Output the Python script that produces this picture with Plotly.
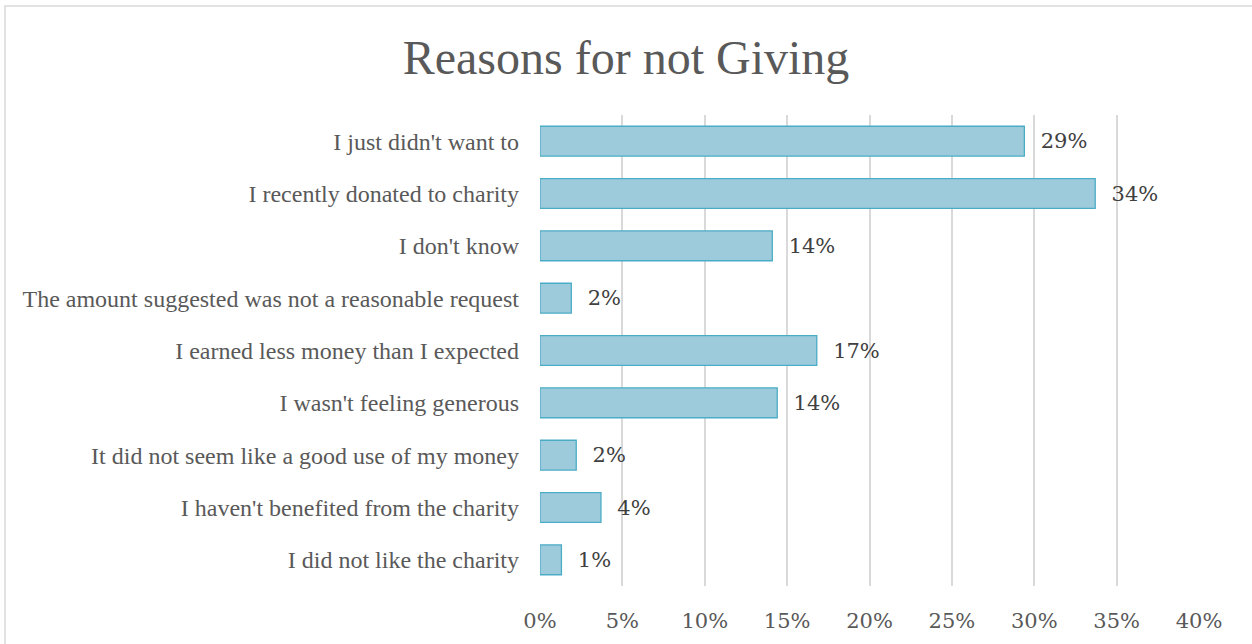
import plotly.graph_objects as go

categories = [
    "I just didn't want to",
    "I recently donated to charity",
    "I don't know",
    "The amount suggested was not a reasonable request",
    "I earned less money than I expected",
    "I wasn't feeling generous",
    "It did not seem like a good use of my money",
    "I haven't benefited from the charity",
    "I did not like the charity",
]
values = [0.294, 0.337, 0.141, 0.019, 0.168, 0.144, 0.022, 0.037, 0.013]
tick_vals = [0, 0.05, 0.10, 0.15, 0.20, 0.25, 0.30, 0.35, 0.40]
tick_text = ["0%", "5%", "10%", "15%", "20%", "25%", "30%", "35%", "40%"]
title = "Reasons for not Giving"

W, H = 1252, 644
ml, mr, mt, mb = 540, 53, 115, 58

fig = go.Figure()
fig.add_trace(go.Bar(
    x=values, y=categories, orientation="h",
    width=0.57,
    marker=dict(color="#9dcbdc", line=dict(color="#4bacc6", width=1.3)),
    text=[f"  {round(v*100)}%" for v in values],
    textposition="outside",
    textfont=dict(family="DejaVu Serif", size=21, color="#404040"),
    cliponaxis=False,
    hoverinfo="skip",
))

pw = W - ml - mr
ph = H - mt - mb
fig.add_shape(type="rect", xref="paper", yref="paper",
              x0=(5 - ml) / pw, x1=(W + 2 - ml) / pw,
              y0=(H - mb - (H + 2)) / ph, y1=(H - mb - 6) / ph,
              line=dict(color="#d9d9d9", width=1.5), fillcolor="rgba(0,0,0,0)", layer="below")

fig.update_layout(
    width=W, height=H,
    margin=dict(l=ml, r=mr, t=mt, b=mb),
    paper_bgcolor="white", plot_bgcolor="white",
    showlegend=False,
    title=dict(text=title, x=0.5, xref="container", xanchor="center",
               y=1 - 57 / H, yanchor="middle",
               font=dict(family="Liberation Serif", size=48, color="#595959")),
    xaxis=dict(range=[0, 0.4], tickvals=tick_vals, ticktext=tick_text,
               showgrid=True, gridcolor="#d9d9d9", gridwidth=1.5,
               zeroline=False, showline=False, ticks="",
               ticklabelstandoff=20,
               tickfont=dict(family="DejaVu Serif", size=21, color="#595959")),
    yaxis=dict(autorange="reversed", showgrid=False, zeroline=False, showline=False,
               ticks="", ticklabelstandoff=20,
               tickfont=dict(family="Liberation Serif", size=24, color="#595959")),
    bargap=0.43,
)

fig.write_html("out.html", config={"displayModeBar": False},
               post_script="document.body.style.margin='0';document.body.style.overflow='hidden';")
